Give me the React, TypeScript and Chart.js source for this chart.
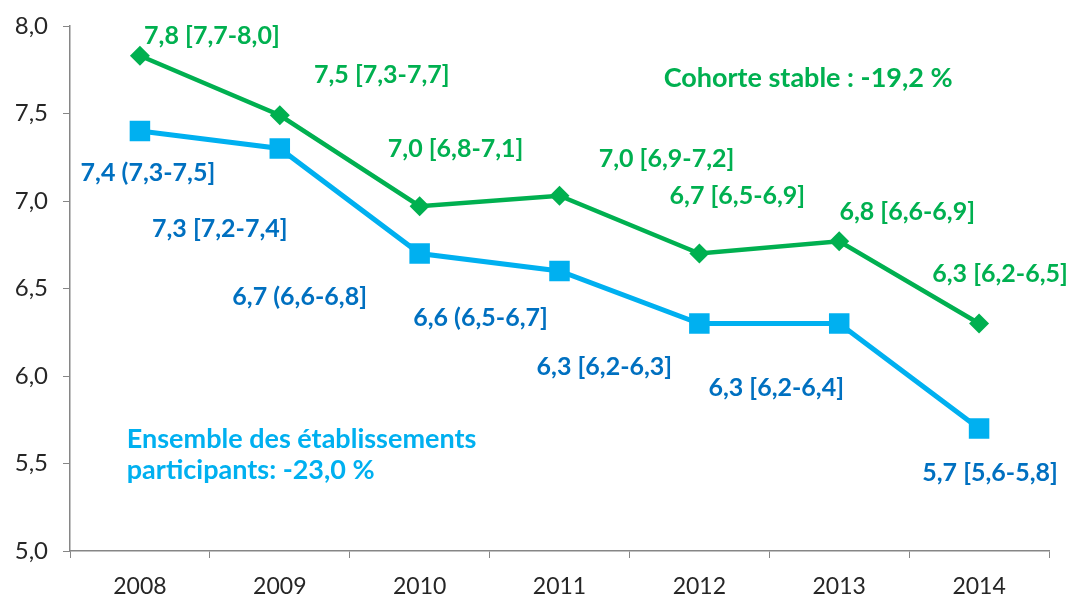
import React, { useEffect, useRef } from "react";
import { Chart, registerables } from "chart.js";

Chart.register(...registerables);

const years = ["2008", "2009", "2010", "2011", "2012", "2013", "2014"];
const cohorteValues = [7.83, 7.49, 6.97, 7.03, 6.7, 6.77, 6.3];
const ensembleValues = [7.4, 7.3, 6.7, 6.6, 6.3, 6.3, 5.7];
const cohorteLabels = [
  "7,8 [7,7-8,0]",
  "7,5 [7,3-7,7]",
  "7,0 [6,8-7,1]",
  "7,0 [6,9-7,2]",
  "6,7 [6,5-6,9]",
  "6,8 [6,6-6,9]",
  "6,3 [6,2-6,5]",
];
const ensembleLabels = [
  "7,4 (7,3-7,5]",
  "7,3 [7,2-7,4]",
  "6,7 (6,6-6,8]",
  "6,6 (6,5-6,7]",
  "6,3 [6,2-6,3]",
  "6,3 [6,2-6,4]",
  "5,7 [5,6-5,8]",
];
// label offsets (pixels) relative to each point
const cohorteOffsets = [
  [72, -20], [102, -40], [36, -57], [107, -37], [38, -58], [68, -29], [21, -50],
];
const ensembleOffsets = [
  [8, 42], [-60, 80], [-120, 43], [-79, 47], [-95, 43], [-63, 64], [11, 44],
];
const cohorteNote = "Cohorte stable : -19,2 %";
const ensembleNote = ["Ensemble des établissements", "participants: -23,0 %"];

const GREEN = "#00B050";
const LIGHTBLUE = "#00B0F0";
const DARKBLUE = "#0070C0";
const FONT = "Lato";

const labelPlugin = {
  id: "pointLabels",
  afterDatasetsDraw(chart: any) {
    const ctx = chart.ctx;
    ctx.save();
    ctx.font = `bold 25px ${FONT}`;
    ctx.textAlign = "center";
    ctx.textBaseline = "middle";
    const sets = [
      { labels: cohorteLabels, offs: cohorteOffsets, color: GREEN },
      { labels: ensembleLabels, offs: ensembleOffsets, color: DARKBLUE },
    ];
    sets.forEach((s, i) => {
      const meta = chart.getDatasetMeta(i);
      meta.data.forEach((pt: any, j: number) => {
        ctx.fillStyle = s.color;
        ctx.fillText(s.labels[j], pt.x + s.offs[j][0], pt.y + s.offs[j][1]);
      });
    });
    const ca = chart.chartArea;
    const w = ca.right - ca.left;
    const h = ca.bottom - ca.top;
    ctx.font = `bold 27px ${FONT}`;
    ctx.fillStyle = GREEN;
    ctx.textAlign = "center";
    ctx.fillText(cohorteNote, ca.left + w * 0.754, ca.top + h * 0.099);
    ctx.fillStyle = LIGHTBLUE;
    ctx.textAlign = "left";
    ctx.fillText(ensembleNote[0], ca.left + w * 0.058, ca.top + h * 0.787);
    ctx.fillText(ensembleNote[1], ca.left + w * 0.058, ca.top + h * 0.846);
    ctx.restore();
  },
};

export default function App() {
  const ref = useRef<HTMLCanvasElement>(null);
  useEffect(() => {
    const chart = new Chart(ref.current!, {
      type: "line",
      data: {
        labels: years,
        datasets: [
          {
            label: "Cohorte stable",
            data: cohorteValues,
            borderColor: GREEN,
            backgroundColor: GREEN,
            borderWidth: 4.5,
            pointStyle: "rectRot",
            pointRadius: 10,
            pointBorderWidth: 0,
            tension: 0,
          },
          {
            label: "Ensemble",
            data: ensembleValues,
            borderColor: LIGHTBLUE,
            backgroundColor: LIGHTBLUE,
            borderWidth: 5,
            pointStyle: "rect",
            pointRadius: 14.5,
            pointBorderWidth: 0,
            tension: 0,
          },
        ],
      },
      options: {
        animation: false,
        responsive: false,
        layout: { padding: { top: 26, right: 20, left: 0, bottom: 0 } },
        plugins: { legend: { display: false }, tooltip: { enabled: false } },
        scales: {
          x: {
            offset: true,
            grid: {
              offset: true,
              drawOnChartArea: false,
              drawTicks: true,
              tickLength: 7,
              color: "#868686",
            },
            border: { color: "#868686", width: 1.5 },
            ticks: { color: "#262626", font: { family: FONT, size: 23 }, padding: 15 },
            afterFit: (s: any) => {
              s.height = 45;
              s.paddingLeft = 0;
              s.paddingRight = 0;
            },
          },
          y: {
            min: 5,
            max: 8,
            grid: {
              drawOnChartArea: false,
              drawTicks: true,
              tickLength: 7,
              color: "#868686",
            },
            border: { color: "#868686", width: 1.5 },
            ticks: {
              stepSize: 0.5,
              color: "#262626",
              font: { family: FONT, size: 24 },
              padding: 15,
              callback: (v: any) => Number(v).toFixed(1).replace(".", ","),
            },
            afterFit: (s: any) => {
              s.width = 70;
              s.paddingTop = 0;
              s.paddingBottom = 0;
            },
          },
        },
      },
      plugins: [labelPlugin],
    });
    return () => chart.destroy();
  }, []);
  return (
    <div style={{ position: "absolute", left: 0, top: 0, width: 1069, height: 596, background: "#fff" }}>
      <canvas ref={ref} width={1069} height={596} />
    </div>
  );
}
